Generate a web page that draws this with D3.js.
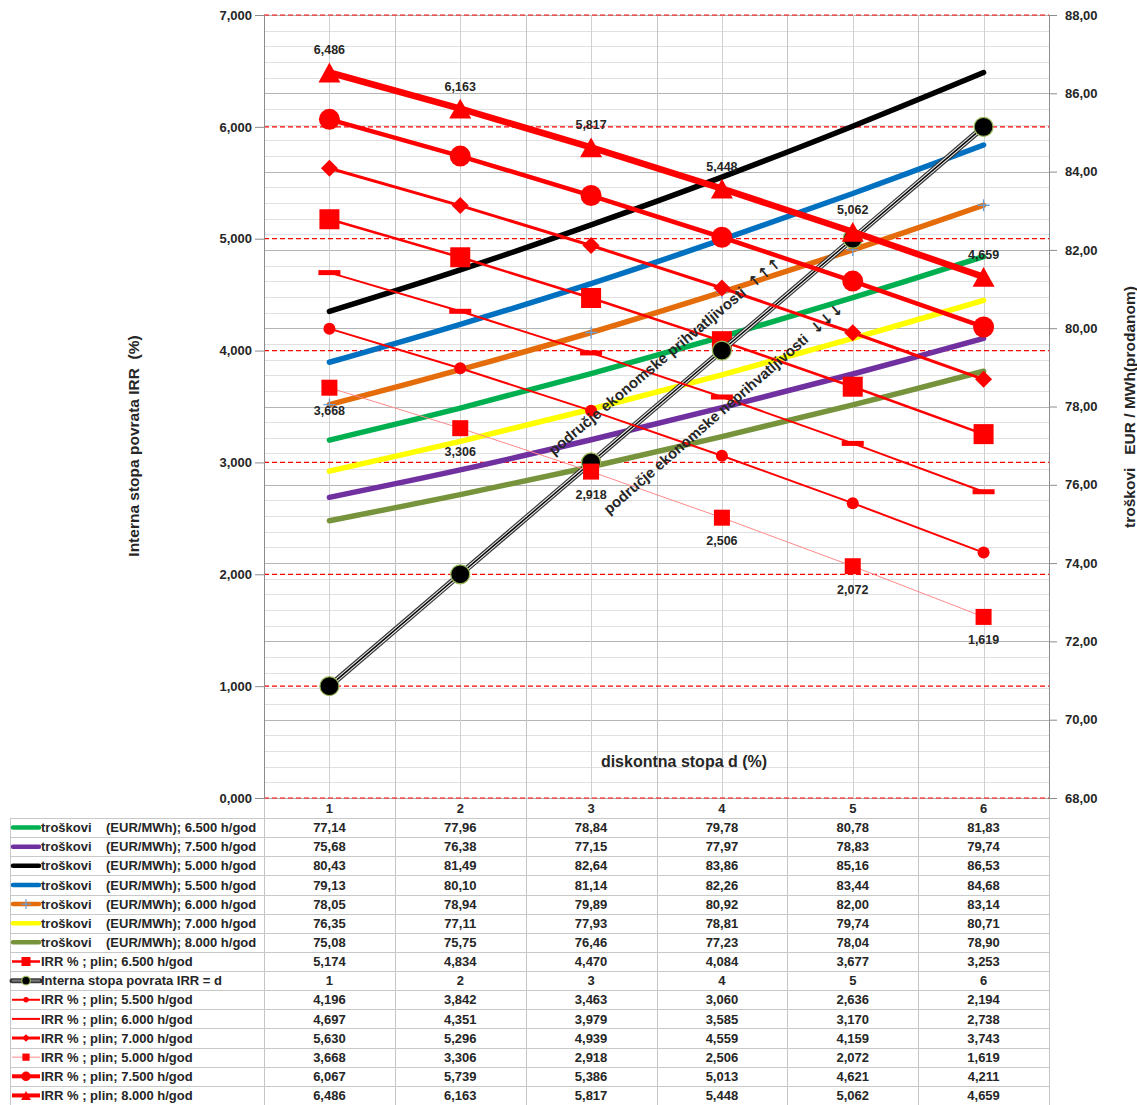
<!DOCTYPE html>
<html>
<head>
<meta charset="utf-8">
<script src="https://cdn.jsdelivr.net/npm/d3@7"></script>
<style>
  body { margin: 0; background: #fff; }
  text { font-family: "Liberation Sans", Arial, sans-serif; font-weight: bold; fill: #262626; }
</style>
</head>
<body>
<svg id="chart" width="1137" height="1105"></svg>
<script>
// ---- data ----------------------------------------------------------------
const categories = [1, 2, 3, 4, 5, 6];
const leftTicks = [0, 1, 2, 3, 4, 5, 6, 7];
const rightTicks = [68, 70, 72, 74, 76, 78, 80, 82, 84, 86, 88];

// costs (EUR/MWh) per operating hours — right axis
const cost6500 = [77.14, 77.96, 78.84, 79.78, 80.78, 81.83];
const cost7500 = [75.68, 76.38, 77.15, 77.97, 78.83, 79.74];
const cost5000 = [80.43, 81.49, 82.64, 83.86, 85.16, 86.53];
const cost5500 = [79.13, 80.10, 81.14, 82.26, 83.44, 84.68];
const cost6000 = [78.05, 78.94, 79.89, 80.92, 82.00, 83.14];
const cost7000 = [76.35, 77.11, 77.93, 78.81, 79.74, 80.71];
const cost8000 = [75.08, 75.75, 76.46, 77.23, 78.04, 78.90];

// IRR (%) — left axis
const irr6500 = [5.174, 4.834, 4.470, 4.084, 3.677, 3.253];
const irrEqualsD = [1, 2, 3, 4, 5, 6];
const irr5500 = [4.196, 3.842, 3.463, 3.060, 2.636, 2.194];
const irr6000 = [4.697, 4.351, 3.979, 3.585, 3.170, 2.738];
const irr7000 = [5.630, 5.296, 4.939, 4.559, 4.159, 3.743];
const irr5000 = [3.668, 3.306, 2.918, 2.506, 2.072, 1.619];
const irr7500 = [6.067, 5.739, 5.386, 5.013, 4.621, 4.211];
const irr8000 = [6.486, 6.163, 5.817, 5.448, 5.062, 4.659];

const costNames = [
  "troškovi    (EUR/MWh); 6.500 h/god",
  "troškovi    (EUR/MWh); 7.500 h/god",
  "troškovi    (EUR/MWh); 5.000 h/god",
  "troškovi    (EUR/MWh); 5.500 h/god",
  "troškovi    (EUR/MWh); 6.000 h/god",
  "troškovi    (EUR/MWh); 7.000 h/god",
  "troškovi    (EUR/MWh); 8.000 h/god"
];
const irrNames = [
  "IRR % ; plin; 6.500 h/god",
  "Interna stopa povrata IRR = d",
  "IRR % ; plin; 5.500 h/god",
  "IRR % ; plin; 6.000 h/god",
  "IRR % ; plin; 7.000 h/god",
  "IRR % ; plin; 5.000 h/god",
  "IRR % ; plin; 7.500 h/god",
  "IRR % ; plin; 8.000 h/god"
];

// ---- styles ----------------------------------------------------------------
const costSeries = [
  { name: costNames[0], values: cost6500, color: "#00b050" },
  { name: costNames[1], values: cost7500, color: "#7030a0" },
  { name: costNames[2], values: cost5000, color: "#000000" },
  { name: costNames[3], values: cost5500, color: "#0070c0" },
  { name: costNames[4], values: cost6000, color: "#e46c0a", plus: true },
  { name: costNames[5], values: cost7000, color: "#ffff00" },
  { name: costNames[6], values: cost8000, color: "#77933c" }
];
const irrSeries = [
  { name: irrNames[0], values: irr6500, color: "#ff0000", width: 2.5, marker: "square", size: 20 },
  { name: irrNames[1], values: irrEqualsD, color: "#000000", width: 6, marker: "dot", size: 19, compound: true },
  { name: irrNames[2], values: irr5500, color: "#ff0000", width: 2, marker: "circle", size: 12 },
  { name: irrNames[3], values: irr6000, color: "#ff0000", width: 2, marker: "dash", size: 22 },
  { name: irrNames[4], values: irr7000, color: "#ff0000", width: 3, marker: "diamond", size: 17 },
  { name: irrNames[5], values: irr5000, color: "#ff8a8a", width: 1, marker: "square", size: 16, markerColor: "#ff0000", labels: "below" },
  { name: irrNames[6], values: irr7500, color: "#ff0000", width: 4.5, marker: "circle", size: 21 },
  { name: irrNames[7], values: irr8000, color: "#ff0000", width: 6.5, marker: "triangle", size: 22, labels: "above" }
];

// ---- layout ----------------------------------------------------------------
const plot = { left: 264, right: 1049, top: 15, bottom: 798 };
const table = { left: 10, top: 818, rows: 15, bottom: 1105 };
const rowH = (table.bottom - table.top) / table.rows;

const svg = d3.select("#chart");
const x = d3.scaleBand().domain(categories).range([plot.left, plot.right]);
const cx = d => x(d) + x.bandwidth() / 2;
const yL = d3.scaleLinear().domain([0, 7]).range([plot.bottom, plot.top]);
const yR = d3.scaleLinear().domain([68, 88]).range([plot.bottom, plot.top]);
const crisp = v => Math.round(v) + 0.5;

const fmtComma = f => v => d3.format(f)(v).replace(".", ",");
const fmt3 = fmtComma(".3f"), fmt2 = fmtComma(".2f");

// ---- gridlines -------------------------------------------------------------
const grid = svg.append("g");
const minorR = d3.range(0, 51).map(i => 68 + i * 0.4).filter(v => Math.abs((v - 68) / 2 - Math.round((v - 68) / 2)) > 1e-6);
grid.append("g").selectAll("line").data(minorR).join("line")
  .attr("x1", plot.left).attr("x2", plot.right)
  .attr("y1", d => crisp(yR(d))).attr("y2", d => crisp(yR(d)))
  .attr("stroke", "#e0e0e0").attr("stroke-width", 1);
grid.append("g").selectAll("line").data(rightTicks).join("line")
  .attr("x1", plot.left).attr("x2", plot.right)
  .attr("y1", d => crisp(yR(d))).attr("y2", d => crisp(yR(d)))
  .attr("stroke", "#b4b4b4").attr("stroke-width", 1);
// vertical lines at category centers and boundaries
const bounds = categories.map(c => x(c)).concat([plot.right]);
grid.append("g").selectAll("line").data(categories).join("line")
  .attr("x1", d => crisp(cx(d))).attr("x2", d => crisp(cx(d)))
  .attr("y1", plot.top).attr("y2", plot.bottom)
  .attr("stroke", "#d0d0d0").attr("stroke-width", 1);
grid.append("g").selectAll("line").data(bounds).join("line")
  .attr("x1", d => crisp(d)).attr("x2", d => crisp(d))
  .attr("y1", plot.top).attr("y2", table.bottom)
  .attr("stroke", "#c4c4c4").attr("stroke-width", 1);
// dashed red lines at the IRR axis majors
grid.append("g").selectAll("line").data(leftTicks).join("line")
  .attr("x1", plot.left).attr("x2", plot.right)
  .attr("y1", d => yL(d)).attr("y2", d => yL(d))
  .attr("stroke", "#ff0000").attr("stroke-width", 1.2)
  .attr("stroke-dasharray", "5,3");

// ---- axes --------------------------------------------------------------------
const axL = svg.append("g").attr("transform", `translate(${plot.left},0)`)
  .call(d3.axisLeft(yL).tickValues(leftTicks).tickFormat(fmt3).tickSize(9).tickSizeOuter(0).tickPadding(3));
const axR = svg.append("g").attr("transform", `translate(${plot.right},0)`)
  .call(d3.axisRight(yR).tickValues(rightTicks).tickFormat(fmt2).tickSize(8).tickSizeOuter(0).tickPadding(8));
[axL, axR].forEach(a => {
  a.select(".domain").attr("stroke", "#8c8c8c");
  a.selectAll(".tick line").attr("stroke", "#8c8c8c");
  a.selectAll(".tick text").attr("fill", "#262626").style("font-size", "13px");
});

// ---- cost lines (right axis) ---------------------------------------------------
const costLine = d3.line().x((d, i) => cx(categories[i])).y(d => yR(d)).curve(d3.curveCatmullRom.alpha(0.5));
const gCost = svg.append("g");
costSeries.forEach(s => {
  gCost.append("path").attr("d", costLine(s.values))
    .attr("fill", "none").attr("stroke", s.color).attr("stroke-width", 5.5)
    .attr("stroke-linecap", "round").attr("stroke-linejoin", "round");
  if (s.plus) {
    gCost.append("g").selectAll("path").data(s.values).join("path")
      .attr("d", (d, i) => { const px = cx(categories[i]), py = yR(d); return `M${px - 6},${py}H${px + 6}M${px},${py - 6}V${py + 6}`; })
      .attr("stroke", "#6a9fd8").attr("stroke-width", 1.3);
  }
});

// ---- markers -------------------------------------------------------------------
function drawMarker(g, s, px, py, k) {
  const sz = s.size * k, h = sz / 2, col = s.markerColor || s.color;
  if (s.marker === "square") {
    g.append("rect").attr("x", px - h).attr("y", py - h).attr("width", sz).attr("height", sz).attr("fill", col);
  } else if (s.marker === "circle") {
    g.append("circle").attr("cx", px).attr("cy", py).attr("r", h).attr("fill", col);
  } else if (s.marker === "dot") {
    g.append("circle").attr("cx", px).attr("cy", py).attr("r", h).attr("fill", "#000").attr("stroke", "#9bbb59").attr("stroke-width", 1.2);
  } else if (s.marker === "dash") {
    g.append("rect").attr("x", px - h).attr("y", py - 2.5 * k).attr("width", sz).attr("height", 5 * k).attr("fill", col);
  } else if (s.marker === "diamond") {
    g.append("path").attr("d", `M${px},${py - h}L${px + h},${py}L${px},${py + h}L${px - h},${py}Z`).attr("fill", col);
  } else if (s.marker === "triangle") {
    const th = sz * 0.9;
    g.append("path").attr("d", `M${px},${py - th / 2}L${px + h},${py + th / 2}L${px - h},${py + th / 2}Z`).attr("fill", col);
  }
}

// ---- IRR lines (left axis) -----------------------------------------------------
const irrLine = d3.line().x((d, i) => cx(categories[i])).y(d => yL(d));
const gIrr = svg.append("g");
irrSeries.forEach(s => {
  const g = gIrr.append("g");
  if (s.compound) {
    g.append("path").attr("d", irrLine(s.values)).attr("fill", "none").attr("stroke", "#3a3a3a").attr("stroke-width", 6);
    g.append("path").attr("d", irrLine(s.values)).attr("fill", "none").attr("stroke", "#e8e8e8").attr("stroke-width", 3.6);
    g.append("path").attr("d", irrLine(s.values)).attr("fill", "none").attr("stroke", "#000").attr("stroke-width", 1.4);
  } else {
    g.append("path").attr("d", irrLine(s.values)).attr("fill", "none").attr("stroke", s.color)
      .attr("stroke-width", s.width).attr("stroke-linejoin", "round");
  }
  s.values.forEach((v, i) => drawMarker(g, s, cx(categories[i]), yL(v), 1));
  if (s.labels) {
    g.append("g").selectAll("text").data(s.values).join("text")
      .attr("x", (d, i) => cx(categories[i]))
      .attr("y", d => yL(d) + (s.labels === "above" ? -18 : 27.5))
      .attr("text-anchor", "middle").style("font-size", "12.5px")
      .text(d => fmt3(d));
  }
});

// ---- annotations -----------------------------------------------------------------
const note1 = svg.append("text").attr("transform", "translate(554,456) rotate(-40)")
  .style("font-size", "15px").attr("xml:space", "preserve");
note1.append("tspan").text("područje ekonomske prihvatljivosti  ");
note1.append("tspan").style("font-family", "'DejaVu Sans'").style("font-size", "15px").text("↑↑↑");
const note2 = svg.append("text").attr("transform", "translate(609,515) rotate(-41)")
  .style("font-size", "14.8px").attr("xml:space", "preserve");
note2.append("tspan").text("područje ekonomske neprihvatljivosti  ");
note2.append("tspan").style("font-family", "'DejaVu Sans'").style("font-size", "15px").text("↓↓↓");

// ---- titles --------------------------------------------------------------------------
svg.append("text").attr("x", 684).attr("y", 767).attr("text-anchor", "middle")
  .style("font-size", "16px").text("diskontna stopa d (%)");
svg.append("text").attr("transform", "translate(139,446) rotate(-90)").attr("text-anchor", "middle")
  .style("font-size", "15.5px").attr("xml:space", "preserve").text("Interna stopa povrata IRR  (%)");
svg.append("text").attr("transform", "translate(1135,407) rotate(-90)").attr("text-anchor", "middle")
  .style("font-size", "15.5px").attr("xml:space", "preserve").text("troškovi   EUR / MWh(prodanom)");

// ---- data table ----------------------------------------------------------------------
const gT = svg.append("g");
gT.append("g").selectAll("text").data(categories).join("text")
  .attr("x", d => cx(d)).attr("y", plot.bottom + 14.5).attr("text-anchor", "middle")
  .style("font-size", "13px").text(d => d);

const rows = costSeries.map(s => ({ s, kind: "cost", fmt: fmt2 }))
  .concat(irrSeries.map(s => ({ s, kind: "irr", fmt: s.compound ? (v => String(v)) : fmt3 })));

gT.append("g").selectAll("line").data(d3.range(table.rows + 1)).join("line")
  .attr("x1", table.left).attr("x2", plot.right)
  .attr("y1", i => crisp(table.top + i * rowH)).attr("y2", i => crisp(table.top + i * rowH))
  .attr("stroke", "#c8c8c8").attr("stroke-width", 1);
gT.append("line").attr("x1", table.left + 0.5).attr("x2", table.left + 0.5)
  .attr("y1", table.top).attr("y2", table.bottom).attr("stroke", "#c8c8c8");

rows.forEach((r, ri) => {
  const yc = table.top + ri * rowH + rowH / 2;
  const g = gT.append("g");
  // legend key
  if (r.kind === "cost") {
    g.append("line").attr("x1", 13).attr("x2", 39).attr("y1", yc).attr("y2", yc)
      .attr("stroke", r.s.color).attr("stroke-width", 4.5).attr("stroke-linecap", "round");
    if (r.s.plus) {
      g.append("path").attr("d", `M21,${yc}H31M26,${yc - 5}V${yc + 5}`).attr("stroke", "#6a9fd8").attr("stroke-width", 1.2);
    }
  } else {
    if (r.s.compound) {
      g.append("line").attr("x1", 12).attr("x2", 40).attr("y1", yc).attr("y2", yc).attr("stroke", "#3a3a3a").attr("stroke-width", 5).attr("stroke-linecap", "round");
      g.append("line").attr("x1", 12).attr("x2", 40).attr("y1", yc).attr("y2", yc).attr("stroke", "#777").attr("stroke-width", 2);
    } else {
      g.append("line").attr("x1", 12).attr("x2", 40).attr("y1", yc).attr("y2", yc)
        .attr("stroke", r.s.color).attr("stroke-width", Math.min(r.s.width, 4));
    }
    drawMarker(g, r.s, 26, yc, r.s.marker === "dash" ? 0 : 0.45);
  }
  g.append("text").attr("x", 41).attr("y", yc + 4.6).attr("xml:space", "preserve")
    .style("font-size", "13px").text(r.s.name);
  g.append("g").selectAll("text").data(r.s.values).join("text")
    .attr("x", (d, i) => cx(categories[i])).attr("y", yc + 4.6).attr("text-anchor", "middle")
    .style("font-size", "13px").text(d => r.fmt(d));
});
</script>
</body>
</html>
